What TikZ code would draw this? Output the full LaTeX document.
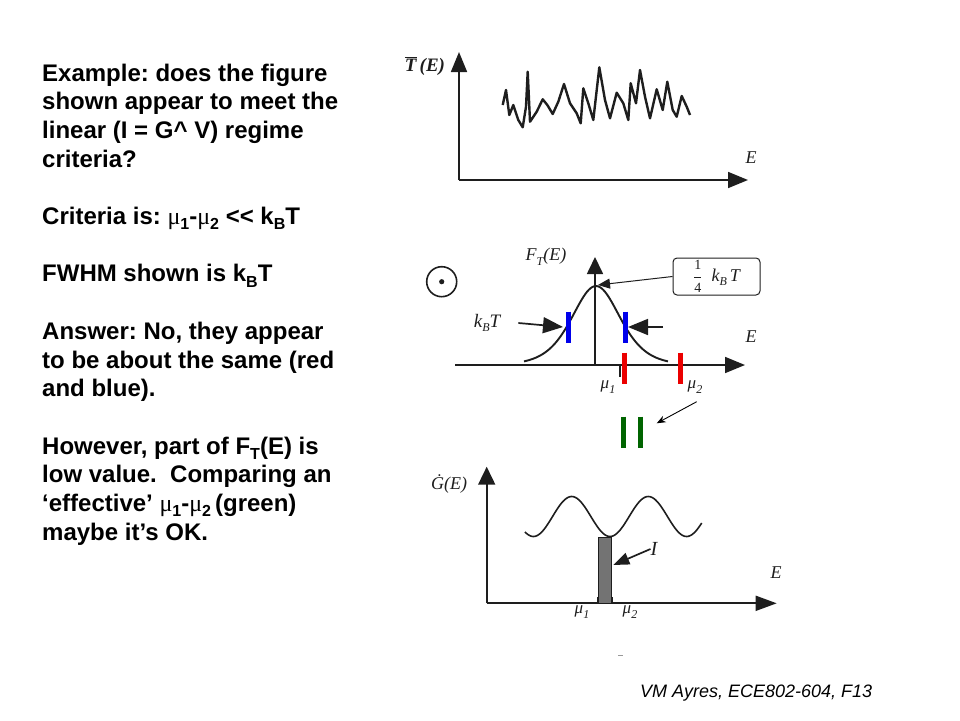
\documentclass[tikz,border=0pt]{standalone}
\usepackage{fontspec}
\setmainfont{Liberation Sans}
\newfontfamily\serif{Liberation Serif}
\usetikzlibrary{arrows.meta}
\frenchspacing
\newcommand{\mysub}[1]{\raisebox{-0.22em}{\fontsize{16}{16}\selectfont #1}}
\newcommand{\mymu}{{\serif\mdseries μ}}
\newcommand{\fsub}[1]{\raisebox{-0.25em}{\fontsize{12}{12}\selectfont #1}}
\newcommand{\fracnum}[1]{\mbox{\fontsize{14}{14}\selectfont\serif\upshape #1}}
\definecolor{myblue}{RGB}{0,0,235}
\definecolor{myred}{RGB}{235,0,0}
\definecolor{mygreen}{RGB}{0,100,0}
\definecolor{ink}{RGB}{30,30,30}
\begin{document}
\begin{tikzpicture}[x=1pt,y=-1pt,
  txt/.style={anchor=base west,inner sep=0pt,font=\fontsize{24}{28.7}\selectfont\bfseries},
  lbl/.style={inner sep=0pt,font=\fontsize{18}{18}\selectfont\serif\itshape,text=ink},
  axis/.style={draw=ink,line width=1.7pt,-{Triangle[length=20pt,width=16pt]}},
  curve/.style={draw=ink,line width=1.9pt,line join=round},
  bigarrow/.style={draw=ink,line width=1.7pt,-{Triangle[length=20pt,width=16pt]}},
  colbar/.style={line width=5pt},
  thin/.style={draw=ink,line width=1.2pt}]
\useasboundingbox (0,0) rectangle (960,720);

% ---- left text ----
\node[txt] (l1) at (42,81) {Example: does the figure};
\node[txt] (l2) at (42,109.7) {shown appear to meet the};
\node[txt] (l3) at (42,138.4) {linear (I = G\textasciicircum{} V) regime};
\node[txt] (l4) at (42,167.1) {criteria?};
\node[txt] (l5) at (42,224.5) {Criteria is: \mymu\mysub{1}-\mymu\mysub{2} <{}< k\mysub{B}T};
\node[txt] (l6) at (42,281.9) {FWHM shown is k\mysub{B}T};
\node[txt] (l7) at (42,339.3) {Answer: No, they appear};
\node[txt] (l8) at (42,368) {to be about the same (red};
\node[txt] (l9) at (42,396.7) {and blue).};
\node[txt] (l10) at (42,454.1) {However, part of F\mysub{T}(E) is};
\node[txt] (l11) at (42,482.8) {low value.\ \ Comparing an};
\node[txt] (l12) at (42,511.5) {‘effective’ \mymu\mysub{1}-\mymu\mysub{2}\,(green)};
\node[txt] (l13) at (42,540.2) {maybe it’s OK.};

% ---- footer ----
\node[anchor=base west,inner sep=0pt,font=\fontsize{18}{18}\selectfont\itshape] (foot) at (640,697) {VM Ayres, ECE802-604, F13};

% ---- figure 1: T(E) ----
\coordinate (t0) at (459,180);
\coordinate (ty) at (459,52);
\coordinate (tx) at (748,180);
\draw[axis] (t0) -- (ty);
\draw[axis] (t0) -- (tx);
\node[lbl,font=\fontsize{19}{19}\selectfont\serif\itshape\bfseries] (tlab) at (425,66) {$\overline{\mbox{\serif\itshape\bfseries T}}$\,(E)};
\node[lbl] (tE) at (751,158) {E};
\draw[curve,line width=2.4pt] plot coordinates {(502.7,105) (506,90) (509.3,115) (513.3,105) (518.3,120) (522.7,127.3) (526,106.7) (527.7,71.7) (530,121.7) (536.7,111.7) (542.7,99.3) (547.3,105) (552.7,114) (558.3,101.7) (564,84) (570,103.3) (576.7,113.3) (580.7,123.3) (583.3,88.3) (588.3,103.3) (593.3,120) (599.3,67.3) (605,100) (610,118.3) (616.7,92.7) (623.3,103.3) (628.3,120) (630.7,83.3) (636,103.3) (640,70) (645,96.7) (650,118.3) (656.7,89.3) (662.7,110) (667.3,81.7) (672.7,110) (676.7,116.7) (681.7,96) (686.7,106.7) (690,115)};

% ---- figure 2: F_T(E) ----
\node[circle,draw=ink,line width=1.6pt,minimum size=30pt,inner sep=0pt] (sun) at (441.7,281.7) {};
\fill[ink] (sun.center) circle (2.6pt);
\coordinate (f0) at (595,365);
\coordinate (fy) at (595,257);
\coordinate (fl) at (455,365);
\coordinate (fx) at (745,365);
\draw[axis,-{Triangle[length=17pt,width=16pt]}] (f0) -- (fy);
\draw[axis] (fl) -- (fx);
\draw[curve] plot[domain=-72:72,samples=90] ({596+\x},{365-79/(cosh(\x/32.4))^2});
\node[lbl] (fT) at (546,257) {F\fsub{T}(E)};
\node[lbl] (fE) at (751,337) {E};
% kBT arrows
\node[lbl,font=\fontsize{19}{19}\selectfont\serif\itshape] (kbt) at (487,323) {k\fsub{B}T};
\coordinate (la) at (563,327);
\coordinate (ra0) at (663,327);
\coordinate (ra) at (628,327);
\draw[bigarrow] ([xshift=18pt]kbt.east) -- (la);
\draw[bigarrow] (ra0) -- (ra);
% blue bars
\draw[colbar,myblue] (568,311.7) -- (568,343.3);
\draw[colbar,myblue] (625,311.7) -- (625,343.3);
% mu ticks
\draw[thin] (620,365) -- (620,377);
\draw[thin] (680,365) -- (680,377);
% red bars
\draw[colbar,myred] (624.3,352.7) -- (624.3,384);
\draw[colbar,myred] (680,352.7) -- (680,384);
\node[lbl,font=\fontsize{17}{17}\selectfont\serif\itshape] (m1) at (608,387) {μ\fsub{1}};
\node[lbl,font=\fontsize{17}{17}\selectfont\serif\itshape] (m2) at (695,387) {μ\fsub{2}};
% 1/4 kBT box
\node[draw=ink,line width=1pt,rounded corners=4pt,minimum width=87pt,minimum height=37pt,inner sep=2pt,font=\fontsize{18}{18}\selectfont\serif\itshape,text=ink] (qbox) at (716.5,276.5) {$\displaystyle\frac{\fracnum{1}}{\fracnum{4}}$\ \ k\fsub{B}\,T};
\draw[draw=ink,line width=1pt,-{Triangle[length=12pt,width=10pt]}] (qbox.west) -- (598,285);
% green bars
\draw[colbar,mygreen] (623.3,416.7) -- (623.3,448.3);
\draw[colbar,mygreen] (640,416.7) -- (640,448.3);
\coordinate (ga0) at (696.7,401.7);
\coordinate (ga) at (656.7,423.3);
\draw[black,line width=0.9pt,-{Stealth[length=9pt,width=7pt]}] (ga0) -- (ga);

% ---- figure 3: G(E) ----
\coordinate (g0) at (486.7,603.3);
\coordinate (gy) at (486.7,466.7);
\coordinate (gx) at (776.7,603.3);
\draw[axis,-{Triangle[length=18pt,width=17pt]}] (g0) -- (gy);
\draw[axis,-{Triangle[length=21pt,width=15pt]}] (g0) -- (gx);
\node[lbl,font=\fontsize{18}{18}\selectfont\serif\itshape] (glab) at (449,484) {\.{G}(E)};
\node[lbl] (gE) at (776,573) {E};
\draw[curve,line width=1.6pt] plot[domain=525:701.7,samples=120] (\x,{516.5-20*cos(4.6997*(\x-571.7))});
\node[draw=ink,line width=1.2pt,fill=black!55,minimum width=13.4pt,minimum height=66pt,inner sep=0pt] (ibar) at (605,570.3) {};
\draw[thin] (ibar.south west) -- ++(0,-7);
\draw[thin] (ibar.south east) -- ++(0,-7);
\node[lbl,font=\fontsize{17}{17}\selectfont\serif\itshape] (g1) at (582,612) {μ\fsub{1}};
\node[lbl,font=\fontsize{17}{17}\selectfont\serif\itshape] (g2) at (630,612) {μ\fsub{2}};
\node[lbl,font=\fontsize{20}{20}\selectfont\serif\itshape] (ilab) at (654,549) {I};
\draw[draw=ink,line width=1.7pt,-{Triangle[length=16pt,width=12pt]}] (ilab.west) -- (613.3,565);
\draw[black!40,line width=1pt] (618,655) -- (623,655);
\end{tikzpicture}
\end{document}
